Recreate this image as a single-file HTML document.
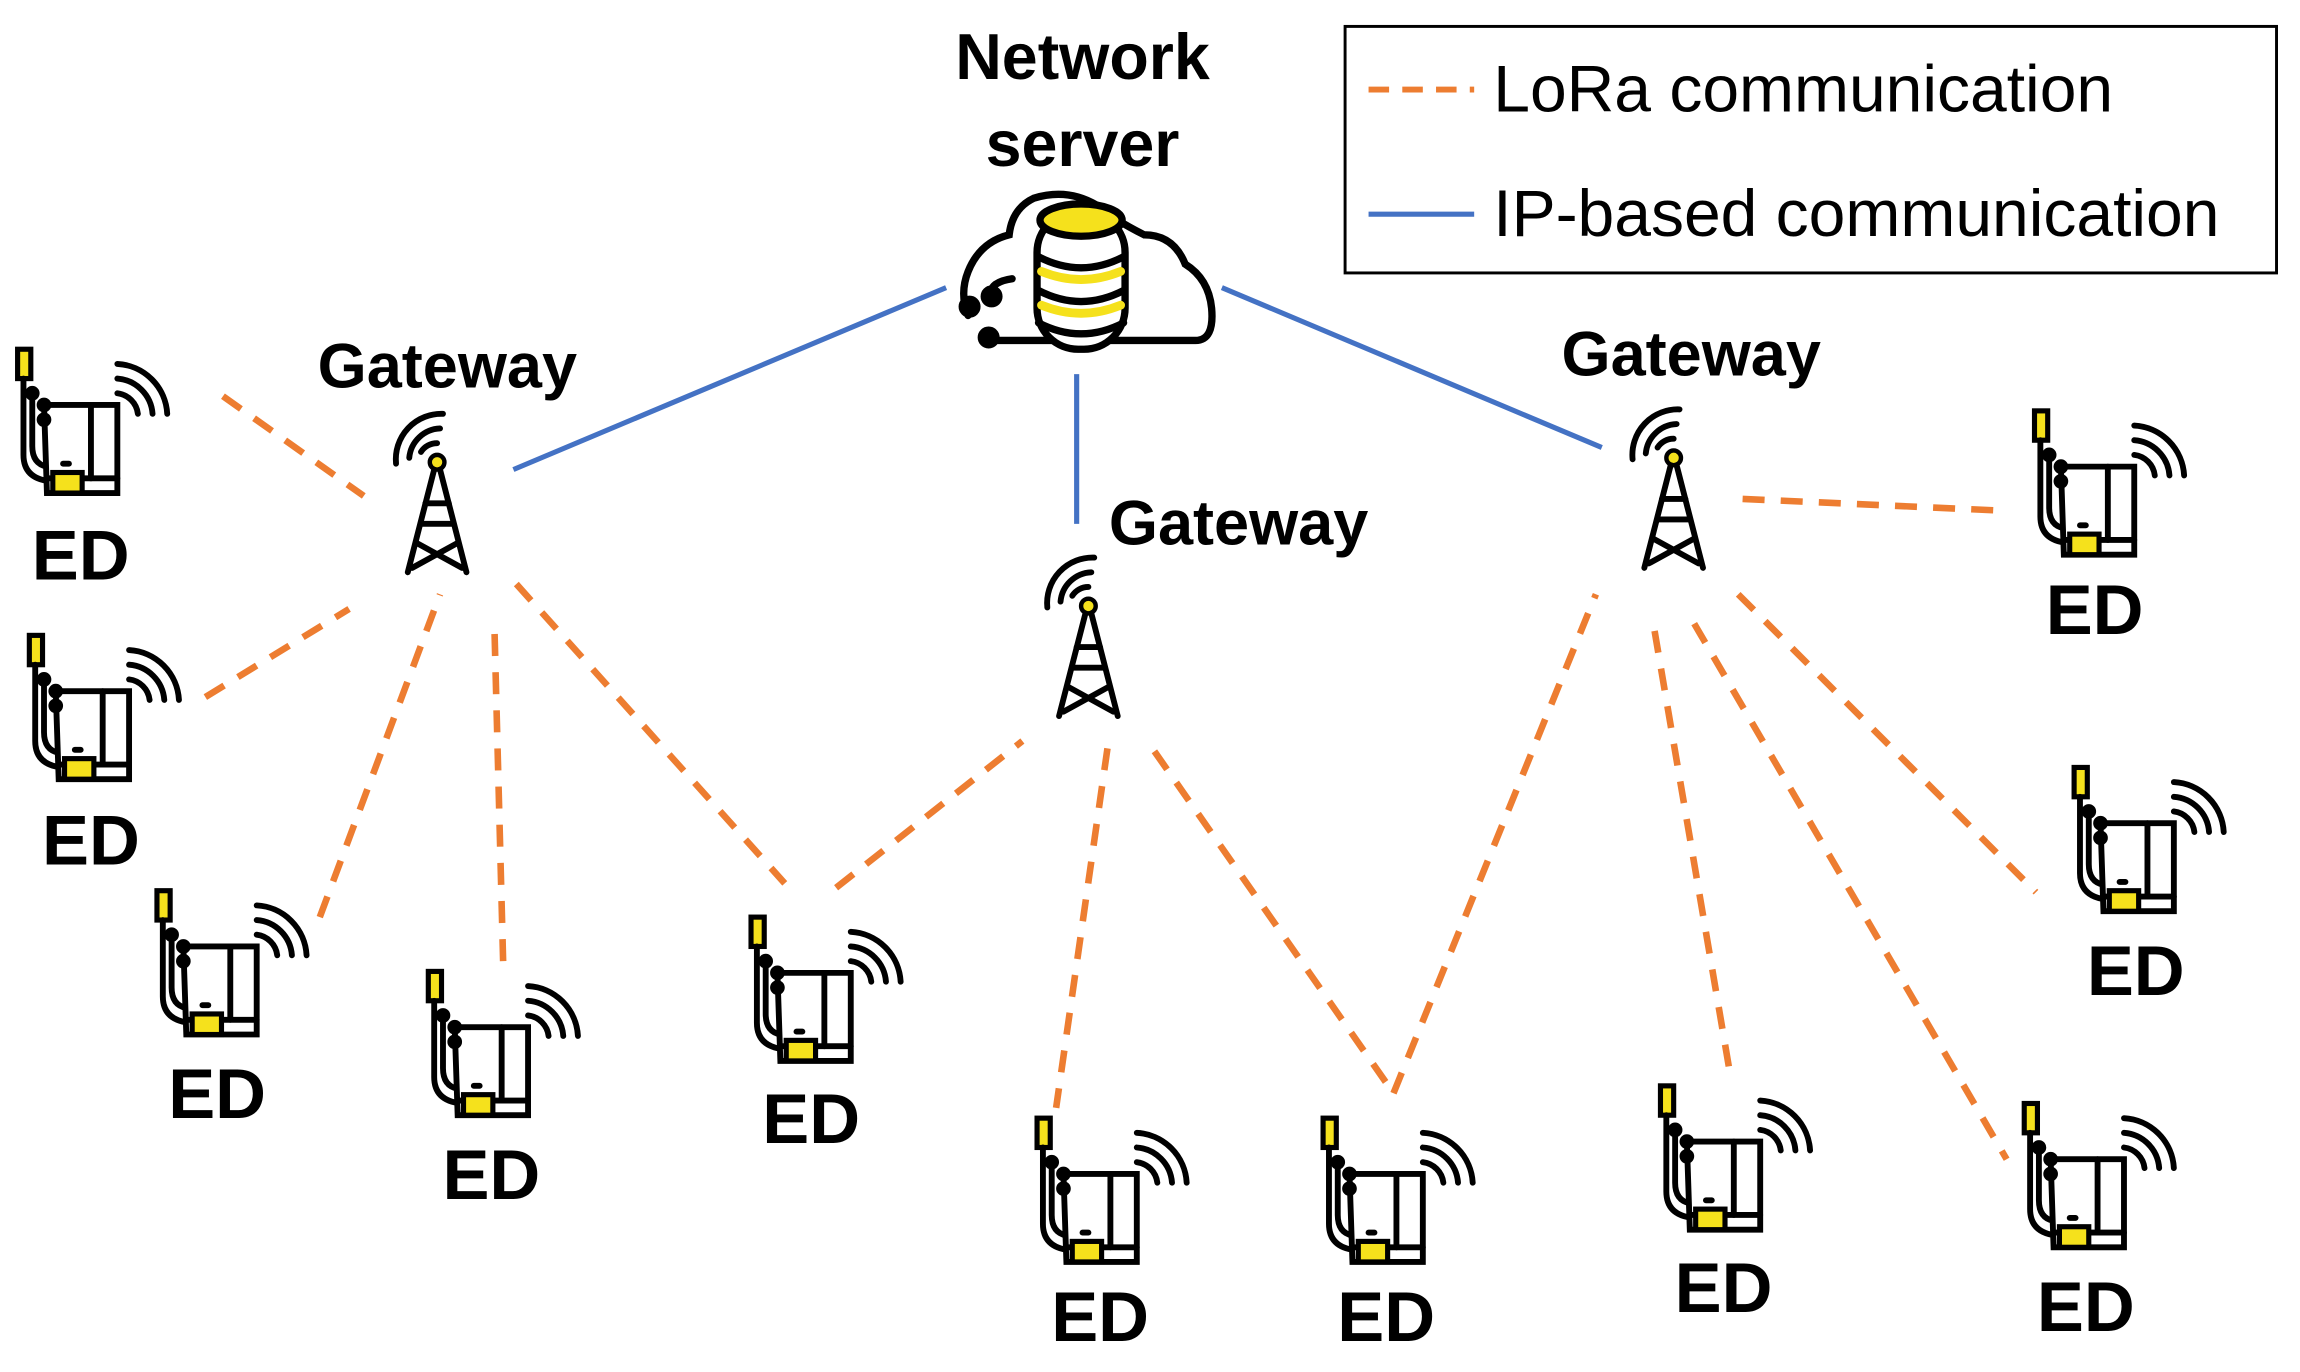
<!DOCTYPE html>
<html><head><meta charset="utf-8"><style>html,body{margin:0;padding:0;background:#fff}svg{display:block}</style></head>
<body>
<svg width="2300" height="1372" viewBox="0 0 1568 935" preserveAspectRatio="none" xmlns="http://www.w3.org/2000/svg" font-family="Liberation Sans, sans-serif">
<defs>
<g id="ed" fill="none" stroke="#000" stroke-width="4" stroke-linecap="round">
  <rect x="2" y="0" width="9" height="20" fill="#f5e11c" stroke-width="3.5"/>
  <path d="M6 20 V72 Q6 88 24 90"/>
  <path d="M12 30 V66 Q12 78 22 80"/>
  <path d="M20 38 H70 V98 H22 Z" fill="#fff"/>
  <line x1="52" y1="38" x2="52" y2="88"/>
  <line x1="22" y1="88" x2="70" y2="88"/>
  <circle cx="12" cy="30" r="3" fill="#000"/>
  <circle cx="20" cy="38" r="3" fill="#000"/>
  <circle cx="20" cy="48" r="3" fill="#000"/>
  <line x1="33" y1="78" x2="37" y2="78"/>
  <rect x="26" y="84" width="20" height="14" fill="#f5e11c" stroke-width="3.5"/>
  <path d="M70 30 A16 16 0 0 1 84 44"/>
  <path d="M70 20 A26 26 0 0 1 94 44"/>
  <path d="M70 10 A36 36 0 0 1 104 44"/>
</g>
<g id="tw" fill="none" stroke="#000" stroke-width="4" stroke-linecap="round">
  <circle cx="0" cy="0" r="5" fill="#f5e11c" stroke-width="3"/>
  <path d="M-2 5 L-20 75 M2 5 L20 75"/>
  <line x1="-8" y1="28" x2="8" y2="28"/>
  <line x1="-11" y1="42" x2="11" y2="42"/>
  <path d="M-14 55 L17 72 M14 55 L-17 72"/>
  <path d="M-11 -7 A13 13 0 0 1 0 -13"/>
  <path d="M-19 -3 A22 22 0 0 1 2 -23"/>
  <path d="M-28 1 A31 31 0 0 1 4 -33"/>
</g>
</defs>
<g stroke="#4472C4" stroke-width="3.5">
<line x1="350" y1="320" x2="645" y2="196"/>
<line x1="734" y1="255" x2="734" y2="357"/>
<line x1="833" y1="196" x2="1092" y2="305"/>
</g>
<g stroke="#ED7D31" stroke-width="4.5" stroke-dasharray="15,11">
<line x1="152" y1="270" x2="248" y2="338"/>
<line x1="140" y1="475" x2="238" y2="415"/>
<line x1="218" y1="625" x2="300" y2="405"/>
<line x1="343" y1="655" x2="337" y2="425"/>
<line x1="352" y1="398" x2="535" y2="602"/>
<line x1="570" y1="605" x2="697" y2="505"/>
<line x1="755" y1="510" x2="720" y2="755"/>
<line x1="787" y1="512" x2="950" y2="745"/>
<line x1="950" y1="745" x2="1088" y2="405"/>
<line x1="1128" y1="430" x2="1180" y2="735"/>
<line x1="1155" y1="425" x2="1368" y2="790"/>
<line x1="1185" y1="405" x2="1388" y2="608"/>
<line x1="1188" y1="340" x2="1365" y2="348"/>
</g>
<g fill="none" stroke="#000" stroke-width="5" stroke-linecap="round">
<path d="M672 232 H815 Q828 232 826 210 Q824 190 808 180 Q800 160 780 160 Q760 150 748 140 Q728 128 705 135 Q690 142 688 160 Q668 165 660 185 Q654 200 660 215" fill="#fff"/>
<path d="M690 190 Q676 192 675 200"/><circle cx="676" cy="202" r="5" fill="#000"/>
<circle cx="661" cy="209" r="5" fill="#000"/>
<circle cx="674" cy="230" r="5" fill="#000"/>
<rect x="707" y="144" width="60" height="94" rx="28" fill="#fff"/>
<ellipse cx="737" cy="150" rx="28" ry="11" fill="#f5e11c"/>
<path d="M708 175 Q737 190 766 175"/>
<path d="M708 198 Q737 213 766 198"/>
<path d="M708 220 Q737 235 766 220"/>
<path d="M710 185 Q737 196 764 185" stroke="#f5e11c" stroke-width="6"/>
<path d="M710 208 Q737 219 764 208" stroke="#f5e11c" stroke-width="6"/>
</g>
<g font-weight="bold" font-size="44" text-anchor="middle">
<text x="738" y="54">Network</text>
<text x="738" y="113">server</text>
</g>
<use href="#tw" x="298" y="315"/>
<use href="#tw" x="742" y="413"/>
<use href="#tw" x="1141" y="312"/>
<g font-weight="bold" font-size="43">
<text x="305" y="264" text-anchor="middle">Gateway</text>
<text x="756" y="371">Gateway</text>
<text x="1153" y="256" text-anchor="middle">Gateway</text>
</g>
<use href="#ed" x="10" y="238"/>
<use href="#ed" x="18" y="433"/>
<use href="#ed" x="105" y="607"/>
<use href="#ed" x="290" y="662"/>
<use href="#ed" x="510" y="625"/>
<use href="#ed" x="705" y="762"/>
<use href="#ed" x="900" y="762"/>
<use href="#ed" x="1130" y="740"/>
<use href="#ed" x="1385" y="280"/>
<use href="#ed" x="1412" y="523"/>
<use href="#ed" x="1378" y="752"/>
<g font-weight="bold" font-size="48" text-anchor="middle">
<text x="55" y="395">ED</text>
<text x="62" y="589">ED</text>
<text x="148" y="762">ED</text>
<text x="335" y="817">ED</text>
<text x="553" y="779">ED</text>
<text x="750" y="914">ED</text>
<text x="945" y="914">ED</text>
<text x="1175" y="894">ED</text>
<text x="1428" y="432">ED</text>
<text x="1456" y="678">ED</text>
<text x="1422" y="907">ED</text>
</g>
<rect x="917" y="18" width="635" height="168" fill="#fff" stroke="#000" stroke-width="2"/>
<line x1="933" y1="61" x2="1005" y2="61" stroke="#ED7D31" stroke-width="4" stroke-dasharray="14,9"/>
<line x1="933" y1="146" x2="1005" y2="146" stroke="#4472C4" stroke-width="3.5"/>
<g font-size="45">
<text x="1018" y="76">LoRa communication</text>
<text x="1018" y="161">IP-based communication</text>
</g>
</svg>
</body></html>
